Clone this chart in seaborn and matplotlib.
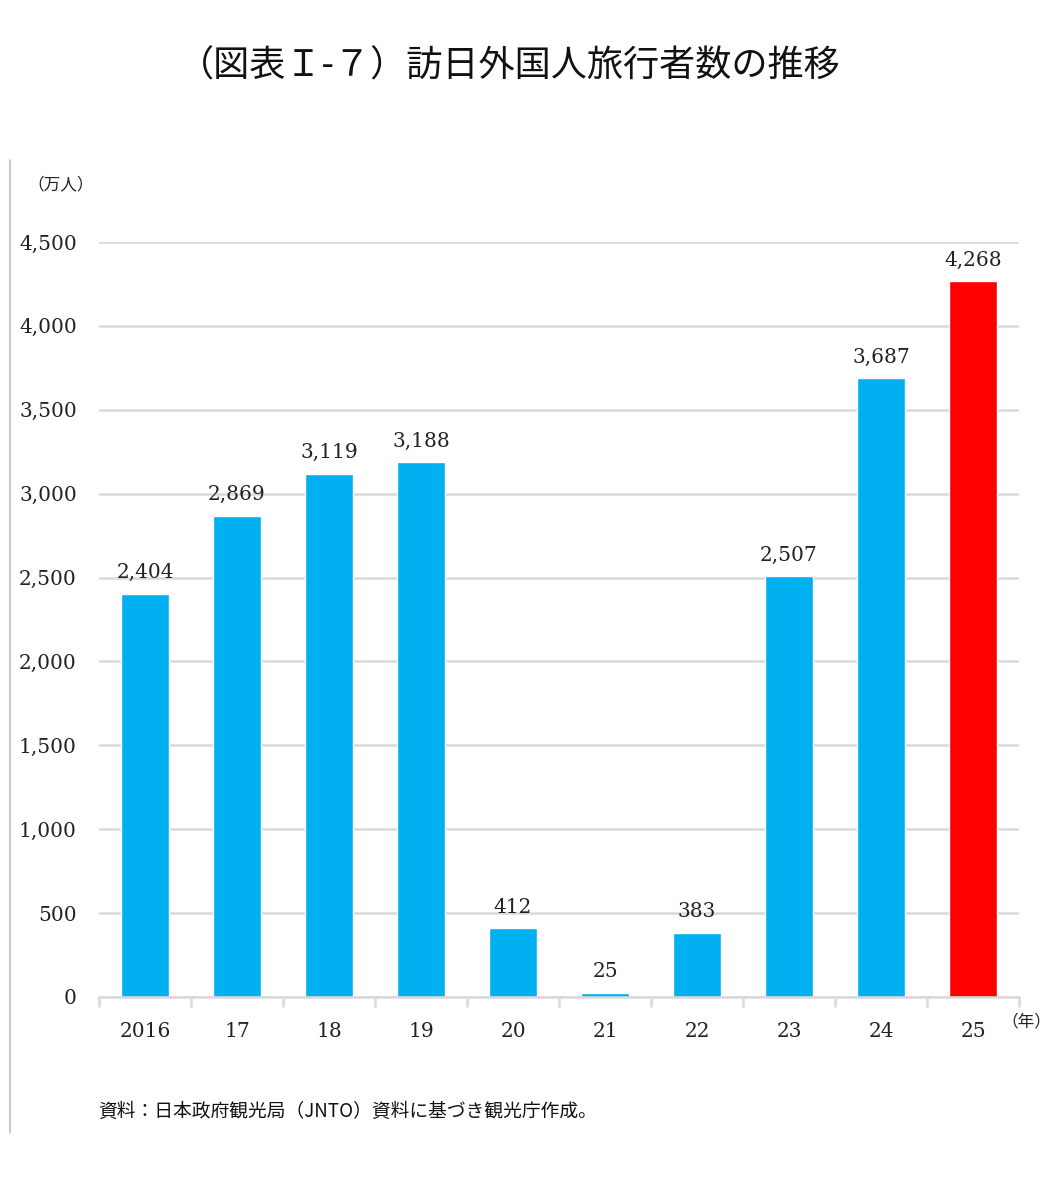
import numpy as np
import pandas as pd
import matplotlib
matplotlib.use("Agg")
import matplotlib.pyplot as plt
import seaborn as sns
from matplotlib.lines import Line2D

years = ["2016", "17", "18", "19", "20", "21", "22", "23", "24", "25"]
visitors = [2404, 2869, 3119, 3188, 412, 25, 383, 2507, 3687, 4268]
bar_colors = ["#00B0F0"] * 9 + ["#FF0000"]
yticks = [0, 500, 1000, 1500, 2000, 2500, 3000, 3500, 4000, 4500]

sns.set_theme(style="white")
plt.rcParams['font.family'] = ['DejaVu Serif', 'Noto Sans CJK JP']
jp = ['Noto Sans CJK JP', 'DejaVu Sans']

df = pd.DataFrame({"year": years, "value": visitors})

fig = plt.figure(figsize=(10.51, 11.93), dpi=100)
ax = fig.add_axes([0.0942, 0.1643, 0.8754, 0.6329])

sns.barplot(data=df, x="year", y="value", hue="year", palette=bar_colors,
            width=0.52, legend=False, ax=ax, saturation=1)

ax.set_ylim(0, 4500)
ax.set_xlim(-0.5, len(years) - 0.5)
ax.set_yticks(yticks)
ax.set_yticklabels([f"{v:,}" for v in yticks], fontsize=14.5, color="#222222")
ax.tick_params(axis='y', length=0, pad=16)
ax.tick_params(axis='x', length=0, pad=18, labelsize=14.5, labelcolor="#222222")
ax.yaxis.grid(True, color="#D9D9D9", linewidth=1.8)
ax.set_axisbelow(True)
ax.set_xlabel("")
ax.set_ylabel("")
for s in ["top", "right", "left"]:
    ax.spines[s].set_visible(False)
ax.spines["bottom"].set_color("#D9D9D9")
ax.spines["bottom"].set_linewidth(1.8)

# tick marks between categories
ax.set_xticks(np.arange(-0.5, len(years), 1.0), minor=True)
ax.tick_params(axis='x', which='minor', length=7, width=1.8, color="#D9D9D9", direction='out')
ax.tick_params(axis='x', which='minor', bottom=True)

for i, v in enumerate(visitors):
    ax.annotate(f"{v:,}", (i, v), xytext=(0, 15), textcoords="offset points",
                ha="center", va="center", fontsize=14.5, color="#222222")

fig.text(0.485, 0.944, "（図表Ｉ-７）訪日外国人旅行者数の推移", family=jp,
         fontsize=26, ha="center", va="center", color="#111111")
fig.text(0.058, 0.845, "（万人）", family=jp, fontsize=12, ha="center", va="center", color="#222222")
fig.text(1.0, 0.143, "（年）", family=jp, fontsize=12, ha="right", va="center", color="#222222")
fig.text(0.093, 0.068, "資料：日本政府観光局（JNTO）資料に基づき観光庁作成。", family=jp,
         fontsize=13.5, ha="left", va="center", color="#111111")

fig.add_artist(Line2D([0.0095, 0.0095], [0.050, 0.866], transform=fig.transFigure,
                      color="#BFBFBF", linewidth=1.2))

fig.savefig("out.png", dpi=100)
